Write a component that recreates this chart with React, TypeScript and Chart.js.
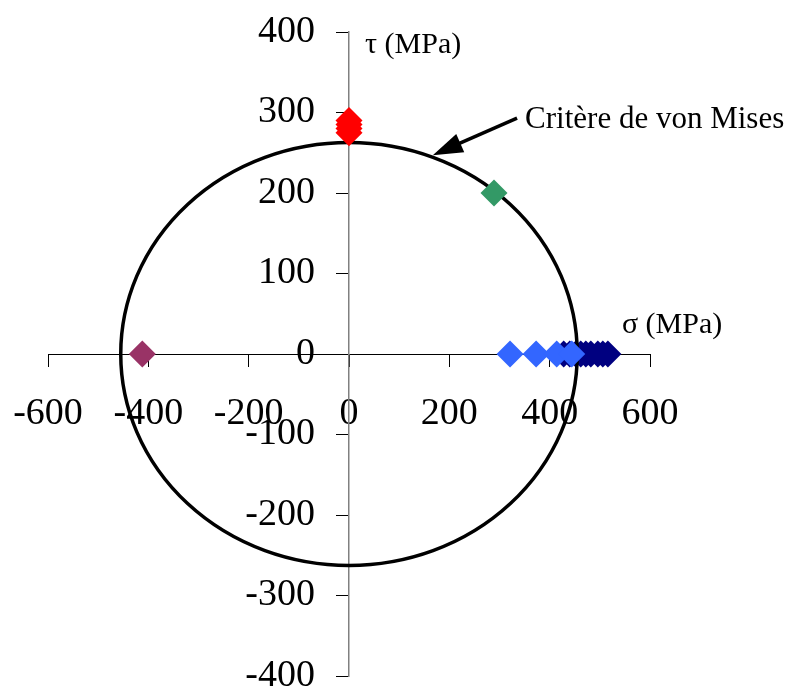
import React, { useEffect, useRef } from 'react';
import { Chart, registerables } from 'chart.js';

Chart.register(...registerables);

// ---- data ----
const sigmaTicks = [-600, -400, -200, 0, 200, 400, 600];
const tauTicks = [-400, -300, -200, -100, 0, 100, 200, 300, 400];

const yieldStress = 455; // von Mises criterion: sigma^2 + 3 tau^2 = yieldStress^2

const redSigma = [0, 0, 0, 0];
const redTau = [275, 280, 285, 290];

const greenSigma = [289];
const greenTau = [200];

const purpleSigma = [-412];
const purpleTau = [0];

const lightBlueSigma = [321, 373, 414, 444];
const lightBlueTau = [0, 0, 0, 0];

const navySigma = [428, 440, 452, 462, 472, 482, 496, 506, 516];
const navyTau = [0, 0, 0, 0, 0, 0, 0, 0, 0];

const arrowFrom = [335, 293];
const arrowTo = [167, 247];

const tauLabel = 'τ (MPa)';
const tauLabelPos = [32, 384];
const sigmaLabel = 'σ (MPa)';
const sigmaLabelPos = [544, 36];
const criterionLabel = 'Critère de von Mises';
const criterionLabelPos = [351, 291];

const FONT = "'Liberation Serif', 'Times New Roman', serif";
const OFFSET = 40; // canvas extends beyond the window on the left/top

const zip = (xs: number[], ys: number[]) => xs.map((v, i) => ({ x: v, y: ys[i] }));

const overlayPlugin = {
  id: 'overlay',
  beforeDatasetDraw(chart: any, args: any) {
    if (args.index !== 3) return;
    const { ctx } = chart;
    const xs = chart.scales.x;
    const ys = chart.scales.y;
    const cx = xs.getPixelForValue(0);
    const cy = ys.getPixelForValue(0);
    const rx = xs.getPixelForValue(yieldStress) - cx;
    const ry = cy - ys.getPixelForValue(yieldStress / Math.sqrt(3));
    ctx.save();
    ctx.beginPath();
    ctx.ellipse(cx, cy, rx, ry, 0, 0, Math.PI * 2);
    ctx.lineWidth = 3.5;
    ctx.strokeStyle = '#000';
    ctx.stroke();
    ctx.restore();
  },
  afterDatasetsDraw(chart: any) {
    const { ctx } = chart;
    const xs = chart.scales.x;
    const ys = chart.scales.y;
    const px = (p: number[]) => [xs.getPixelForValue(p[0]), ys.getPixelForValue(p[1])];
    ctx.save();
    // arrow
    const [x1, y1] = px(arrowFrom);
    const [x2, y2] = px(arrowTo);
    const ang = Math.atan2(y2 - y1, x2 - x1);
    const headLen = 30;
    const headW = 10;
    const bx = x2 - Math.cos(ang) * headLen;
    const by = y2 - Math.sin(ang) * headLen;
    ctx.strokeStyle = '#000';
    ctx.fillStyle = '#000';
    ctx.lineWidth = 3.5;
    ctx.beginPath();
    ctx.moveTo(x1, y1);
    ctx.lineTo(bx + Math.cos(ang) * 4, by + Math.sin(ang) * 4);
    ctx.stroke();
    ctx.beginPath();
    ctx.moveTo(x2, y2);
    ctx.lineTo(bx + Math.sin(ang) * headW, by - Math.cos(ang) * headW);
    ctx.lineTo(bx - Math.sin(ang) * headW, by + Math.cos(ang) * headW);
    ctx.closePath();
    ctx.fill();
    // labels
    ctx.textAlign = 'left';
    ctx.textBaseline = 'middle';
    ctx.fillStyle = '#000';
    ctx.font = `30px ${FONT}`;
    let p = px(tauLabelPos);
    ctx.fillText(tauLabel, p[0], p[1]);
    p = px(sigmaLabelPos);
    ctx.fillText(sigmaLabel, p[0], p[1]);
    ctx.font = `31px ${FONT}`;
    p = px(criterionLabelPos);
    ctx.fillText(criterionLabel, p[0], p[1]);
    ctx.restore();
  },
};

export default function App() {
  const ref = useRef<HTMLCanvasElement | null>(null);
  useEffect(() => {
    if (!ref.current) return;
    const diamond = (color: string) => ({
      pointStyle: 'rectRot',
      pointRadius: 13.5,
      pointHoverRadius: 13.5,
      backgroundColor: color,
      borderColor: color,
      borderWidth: 0,
      showLine: false,
    });
    const chart = new Chart(ref.current, {
      type: 'scatter',
      data: {
        datasets: [
          { label: 'red', data: zip(redSigma, redTau), ...diamond('#FF0000') },
          { label: 'green', data: zip(greenSigma, greenTau), ...diamond('#339966') },
          { label: 'purple', data: zip(purpleSigma, purpleTau), ...diamond('#993366') },
          { label: 'lightblue', data: zip(lightBlueSigma, lightBlueTau), ...diamond('#3366FF') },
          { label: 'navy', data: zip(navySigma, navyTau), ...diamond('#000080') },
        ] as any,
      },
      options: {
        animation: false,
        responsive: false,
        devicePixelRatio: 1,
        layout: { padding: { left: 48 + OFFSET, right: 147, top: 32 + OFFSET, bottom: 64 } },
        plugins: { legend: { display: false }, tooltip: { enabled: false } },
        scales: {
          x: {
            type: 'linear',
            min: -600,
            max: 600,
            position: 'center',
            afterBuildTicks: (s: any) => { s.ticks = sigmaTicks.map((v) => ({ value: v })); },
            grid: { drawOnChartArea: false, drawTicks: true, tickLength: 12, color: '#000', lineWidth: 1 },
            border: { display: true, color: '#000', width: 1 },
            ticks: { color: '#000', padding: 25, maxRotation: 0, autoSkip: false, font: { family: FONT, size: 38 } },
          },
          y: {
            type: 'linear',
            min: -400,
            max: 400,
            position: 'center',
            afterBuildTicks: (s: any) => { s.ticks = tauTicks.map((v) => ({ value: v })); },
            grid: { drawOnChartArea: false, drawTicks: true, tickLength: 12, color: '#000', lineWidth: 1 },
            border: { display: true, color: '#808080', width: 1.5 },
            ticks: { color: '#000', padding: 22, autoSkip: false, font: { family: FONT, size: 38 } },
          },
        },
      },
      plugins: [overlayPlugin],
    } as any);
    return () => chart.destroy();
  }, []);
  return (
    <div style={{ position: 'fixed', left: -OFFSET, top: -OFFSET, width: 797 + OFFSET, height: 740 + OFFSET, background: '#fff' }}>
      <canvas ref={ref} width={797 + OFFSET} height={740 + OFFSET} style={{ display: 'block', width: 797 + OFFSET, height: 740 + OFFSET }} />
    </div>
  );
}
